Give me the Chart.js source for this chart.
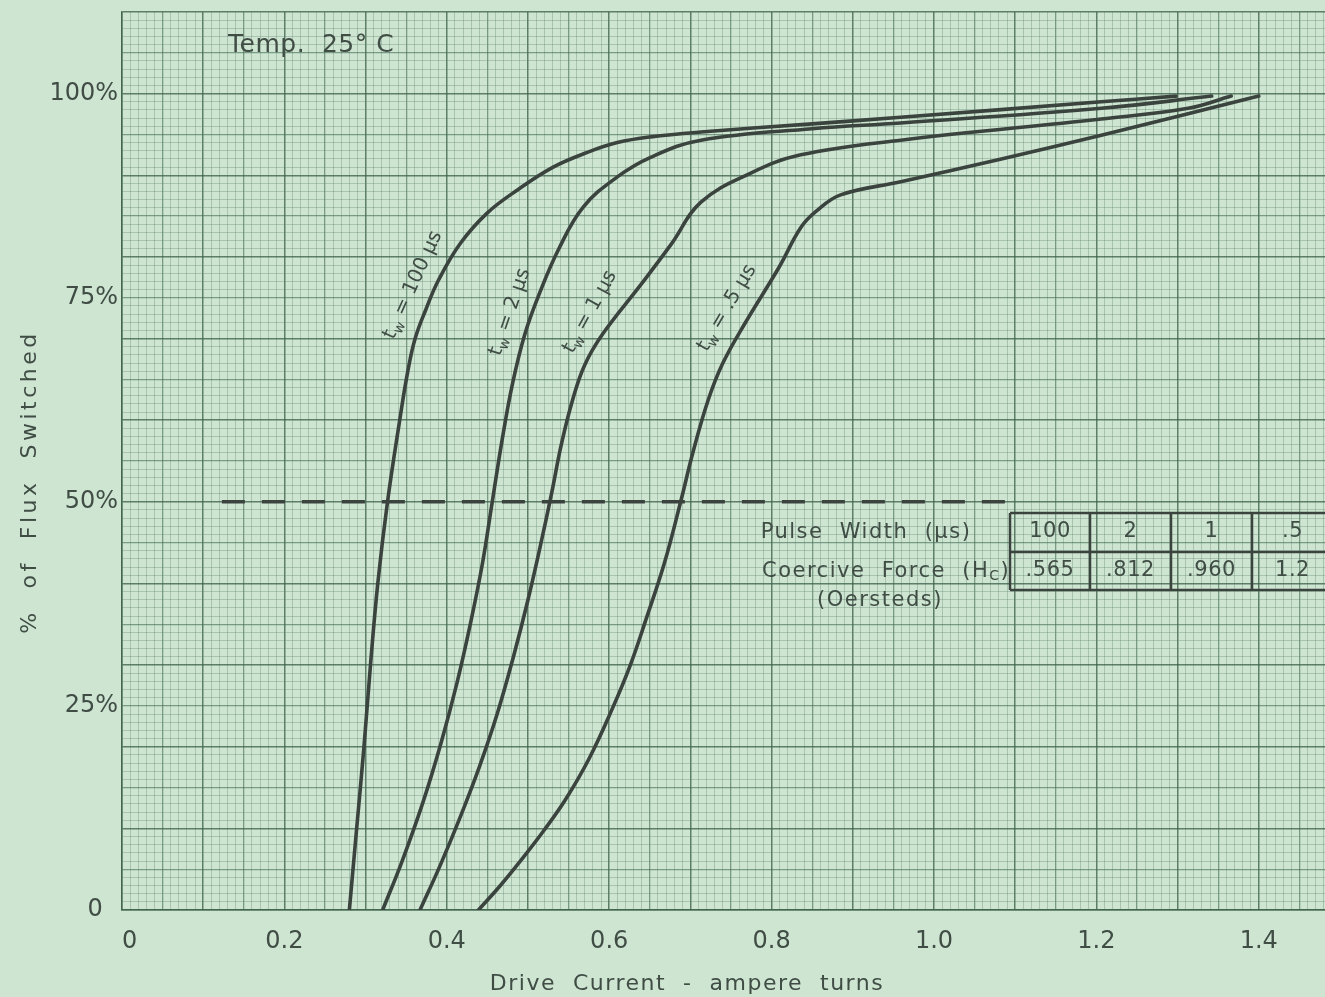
<!DOCTYPE html>
<html>
<head>
<meta charset="utf-8">
<script src="https://cdn.jsdelivr.net/npm/chart.js@4.4.0/dist/chart.umd.min.js"></script>
<style>
  html, body { margin: 0; padding: 0; background: #cee5d2; overflow: hidden; }
  #wrap { position: relative; width: 1348px; height: 997px; }
</style>
</head>
<body>
<div id="wrap"><canvas id="chart" width="1348" height="997"></canvas></div>
<script>
// Drive current (ampere turns) vs. percent of flux switched, one curve per pulse width
const current100 = [0.280, 0.289, 0.298, 0.306, 0.315, 0.327, 0.342, 0.352, 0.361, 0.374, 0.390, 0.417, 0.450, 0.487, 0.531, 0.573, 0.610, 0.651, 0.713, 0.850, 0.959, 1.206, 1.298];
const flux100    = [0,     10,    20,    30,    40,    50,    60,    66,    70,    73.5,  77.2,  81.7,  85.4,  88.2,  91.0,  92.8,  94.0,  94.7,  95.3,  96.3,  97.1,  99.0,  99.7];

const current2 = [0.321, 0.345, 0.370, 0.393, 0.413, 0.430, 0.444, 0.456, 0.468, 0.481, 0.496, 0.514, 0.538, 0.568, 0.610, 0.651, 0.713, 0.850, 0.959, 1.206, 1.342];
const flux2    = [0,     6,     13,    20.5,  28,    35.5,  42.5,  50,    57.5,  64.5,  70.5,  75.5,  81.0,  86.1,  89.8,  92.2,  94.3,  95.7,  96.4,  98.2,  99.7];

const current1 = [0.367, 0.392, 0.417, 0.440, 0.462, 0.482, 0.500, 0.515, 0.529, 0.541, 0.555, 0.570, 0.593, 0.639, 0.676, 0.713, 0.775, 0.836, 0.959, 1.206, 1.313, 1.366];
const flux1    = [0,     5.5,   11.5,  17.5,  24,    31,    38,    44.5,  51,    57,    62.5,  66.8,  70.7,  76.6,  81.5,  86.7,  90.3,  92.5,  94.3,  96.9,  98.2,  99.7];

const current05 = [0.439, 0.466, 0.493, 0.520, 0.546, 0.575, 0.604, 0.626, 0.645, 0.668, 0.688, 0.703, 0.722, 0.740, 0.768, 0.809, 0.836, 0.855, 0.885, 0.959, 1.083, 1.206, 1.400];
const flux05    = [0,     3,     6.3,   9.8,   13.5,  18.5,  24.7,  30,    35.5,  42.5,  50,    56,    62.5,  67,    72,    78.7,  83.6,  85.6,  87.6,  89.2,  92.0,  94.9,  99.7];

// 50 % reference line
const halfLineCurrent = [0.123, 1.093];
const halfLineFlux    = [50, 50];

// Tick labels
const xTickLabels = { 0: '  0', 20: '0.2', 40: '0.4', 60: '0.6', 80: '0.8', 100: '1.0', 120: '1.2', 140: '1.4' };
const yTickLabels = { 0: '0  ', 25: '25%', 50: '50%', 75: '75%', 100: '100%' };

// Pulse width table
const pulseWidths   = ['100', '2', '1', '.5'];
const coerciveForce = ['.565', '.812', '.960', '1.2'];
const curveValues   = ['100 µs', '2 µs', '1 µs', '.5 µs'];

const INK = '#3a433d';
const TEXT = '#404d45';
const FONT = '"DejaVu Sans", "Liberation Sans", sans-serif';

function points(xs, ys) { return xs.map((x, i) => ({ x, y: ys[i] })); }

function curve(xs, ys) {
  return {
    data: points(xs, ys),
    borderColor: INK,
    borderWidth: 3.6,
    pointRadius: 0,
    tension: 0.4,
    borderCapStyle: 'round',
    borderJoinStyle: 'round',
    fill: false
  };
}

function gridStyle(step) {
  // step: index of the grid line, one per 0.01 A·t or 1 %
  if (step % 10 === 0) return { c: 'rgba(62, 98, 76, 0.78)', w: 1.5 };
  if (step % 5 === 0)  return { c: 'rgba(70, 108, 84, 0.62)', w: 1.3 };
  return { c: 'rgba(92, 132, 106, 0.33)', w: 1 };
}

function noPadding(s) {
  s.paddingLeft = 0; s.paddingRight = 0; s.paddingTop = 0; s.paddingBottom = 0;
}

// Free text: temperature note, curve labels, axis titles, table
const annotations = {
  id: 'annotations',
  afterDatasetsDraw(chart) {
    const ctx = chart.ctx;
    ctx.save();
    ctx.fillStyle = TEXT;
    ctx.textBaseline = 'middle';

    // Temperature note
    ctx.font = '25px ' + FONT;
    ctx.textAlign = 'left';
    ctx.letterSpacing = '0.5px';
    ctx.fillText('Temp.  25° C', 228, 45);
    ctx.letterSpacing = '0px';

    // Curve labels, written along each curve
    const labelPos = [
      { x: 413, y: 285, a: -65.5 },
      { x: 510, y: 312, a: -71 },
      { x: 590, y: 312, a: -61 },
      { x: 727, y: 308, a: -59.5 }
    ];
    curveValues.forEach((v, i) => {
      const p = labelPos[i];
      ctx.save();
      ctx.translate(p.x, p.y);
      ctx.rotate(p.a * Math.PI / 180);
      const big = '20px ' + FONT, small = '14px ' + FONT;
      ctx.font = big; const wt = ctx.measureText('t').width;
      ctx.font = small; const ww = ctx.measureText('w').width;
      ctx.font = big; const rest = ' = ' + v; const wr = ctx.measureText(rest).width;
      const x0 = -(wt + ww + wr) / 2;
      ctx.textAlign = 'left';
      ctx.font = big; ctx.fillText('t', x0, 0);
      ctx.font = small; ctx.fillText('w', x0 + wt, 6);
      ctx.font = big; ctx.fillText(rest, x0 + wt + ww, 0);
      ctx.restore();
    });

    // Axis titles
    ctx.font = '22px ' + FONT;
    ctx.textAlign = 'center';
    ctx.letterSpacing = '1.5px';
    ctx.fillText('Drive  Current  -  ampere  turns', 687, 984);
    ctx.save();
    ctx.translate(30, 482);
    ctx.rotate(-Math.PI / 2);
    ctx.letterSpacing = '3.5px';
    ctx.fillText('%  of  Flux  Switched', 0, 0);
    ctx.restore();

    // Table of coercive force
    ctx.letterSpacing = '1.5px';
    ctx.font = '21px ' + FONT;
    ctx.textAlign = 'center';
    ctx.fillText('Pulse  Width  (µs)', 866, 533);
    const cx = 762;
    ctx.textAlign = 'left';
    ctx.fillText('Coercive  Force  (H', cx, 572);
    const wH = ctx.measureText('Coercive  Force  (H').width;
    ctx.font = '14px ' + FONT;
    ctx.fillText('C', cx + wH, 576);
    const wC = ctx.measureText('C').width;
    ctx.font = '21px ' + FONT;
    ctx.fillText(')', cx + wH + wC, 572);
    ctx.textAlign = 'center';
    ctx.fillText('(Oersteds)', 880, 601);

    const colX = [1010, 1090, 1171, 1252, 1333];
    const rowY = [513, 552, 590];
    ctx.strokeStyle = INK;
    ctx.lineWidth = 2.5;
    ctx.beginPath();
    rowY.forEach(y => { ctx.moveTo(colX[0], y); ctx.lineTo(colX[colX.length - 1], y); });
    colX.forEach(x => { ctx.moveTo(x, rowY[0]); ctx.lineTo(x, rowY[2]); });
    ctx.stroke();
    ctx.letterSpacing = '0.5px';
    pulseWidths.forEach((v, i) => ctx.fillText(v, (colX[i] + colX[i + 1]) / 2, 532));
    coerciveForce.forEach((v, i) => ctx.fillText(v, (colX[i] + colX[i + 1]) / 2, 571));
    ctx.restore();
  }
};

new Chart(document.getElementById('chart'), {
  type: 'line',
  data: {
    datasets: [
      curve(current100, flux100),
      curve(current2, flux2),
      curve(current1, flux1),
      curve(current05, flux05),
      {
        data: points(halfLineCurrent, halfLineFlux),
        borderColor: INK,
        borderWidth: 3.6,
        borderDash: [23, 17],
        pointRadius: 0,
        fill: false
      }
    ]
  },
  options: {
    responsive: false,
    animation: false,
    events: [],
    layout: { padding: { top: 12, right: 8, left: 0, bottom: 0 } },
    plugins: { legend: { display: false }, tooltip: { enabled: false } },
    scales: {
      x: {
        type: 'linear',
        min: 0, max: 1.5,
        afterFit(s) { s.height = 87; noPadding(s); },
        border: { display: true, color: 'rgba(62, 98, 76, 0.85)', width: 1.5 },
        grid: {
          drawTicks: false,
          color: c => gridStyle(Math.round(c.tick.value * 100)).c,
          lineWidth: c => gridStyle(Math.round(c.tick.value * 100)).w
        },
        ticks: {
          stepSize: 0.01,
          autoSkip: false,
          maxRotation: 0,
          padding: 17,
          color: TEXT,
          font: { family: FONT, size: 24 },
          callback: v => xTickLabels[Math.round(v * 100)] || ''
        }
      },
      y: {
        type: 'linear',
        min: 0, max: 110,
        afterFit(s) { s.width = 122; noPadding(s); },
        border: { display: true, color: 'rgba(62, 98, 76, 0.85)', width: 1.5 },
        grid: {
          drawTicks: false,
          color: c => gridStyle(Math.round(c.tick.value)).c,
          lineWidth: c => gridStyle(Math.round(c.tick.value)).w
        },
        ticks: {
          stepSize: 1,
          autoSkip: false,
          padding: 4,
          color: TEXT,
          font: { family: FONT, size: 24 },
          callback: v => yTickLabels[Math.round(v)] || ''
        }
      }
    }
  },
  plugins: [annotations]
});
</script>
</body>
</html>
